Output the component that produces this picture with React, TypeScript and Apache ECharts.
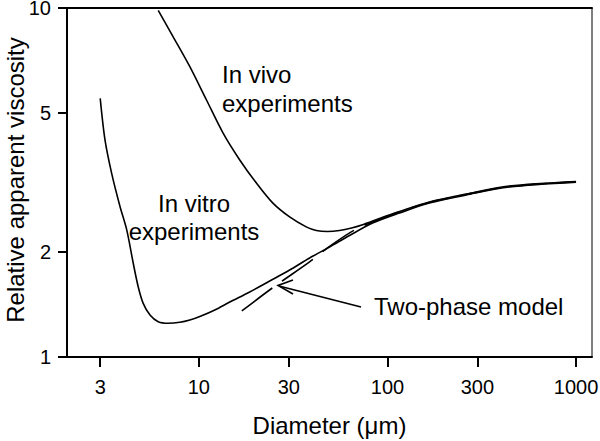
import React, { useEffect, useRef } from "react";
import * as echarts from "echarts";

const xTicks = [3, 10, 30, 100, 300, 1000];
const yTicks = [1, 2, 5, 10];

const inVitroX = [3, 3.18, 3.45, 3.82, 4.15, 4.49, 4.77, 5.07, 5.51, 6.09, 6.88, 7.93, 8.96, 10.12, 12.15, 14.59, 18.61, 23.76, 30.3, 38.66, 49.33, 62.93, 83.4, 115.8, 166.8, 261.8, 442, 1000];
const inVitroY = [5.51, 4.19, 3.36, 2.7, 2.31, 1.856, 1.59, 1.425, 1.319, 1.262, 1.249, 1.257, 1.276, 1.306, 1.364, 1.437, 1.536, 1.651, 1.775, 1.922, 2.067, 2.229, 2.42, 2.586, 2.762, 2.912, 3.07, 3.17];

const inVivoX = [6.09, 7.31, 8.96, 10.98, 13.45, 16.48, 20.2, 24.7, 30.3, 37.1, 41.97, 48.1, 55.7, 64.5, 74.6, 90.7, 115.8, 166.8, 261.8, 442, 1000];
const inVivoY = [9.85, 8.27, 6.79, 5.45, 4.38, 3.67, 3.15, 2.76, 2.52, 2.36, 2.304, 2.289, 2.304, 2.342, 2.397, 2.494, 2.612, 2.781, 2.931, 3.09, 3.184];

const twoPhaseX = [16.9, 24.94, 38.66, 49.33, 68.6, 115.8, 166.8, 261.8, 442, 1000];
const twoPhaseY = [1.355, 1.587, 1.872, 2.074, 2.327, 2.603, 2.772, 2.922, 3.079, 3.179];

const FONT = "'Liberation Sans', Arial, Helvetica, sans-serif";

function pairs(xs: number[], ys: number[]) {
  return xs.map((x, i) => [x, ys[i]]);
}

export default function App() {
  const ref = useRef<HTMLDivElement>(null);
  useEffect(() => {
    if (!ref.current) return;
    const chart = echarts.init(ref.current, undefined, { renderer: "svg" });
    const lineBase = { type: "line", showSymbol: false, symbol: "none", smooth: 0.3, silent: true };
    const axisCommon = {
      type: "log",
      logBase: 10,
      splitLine: { show: false },
      minorTick: { show: false },
    };
    const textBase = { fontSize: 24, fontFamily: FONT, fill: "#000" };
    chart.setOption({
      animation: false,
      backgroundColor: "#ffffff",
      textStyle: { fontFamily: FONT, color: "#000" },
      grid: {
        left: 67,
        right: 8,
        top: 8,
        bottom: 84,
        show: true,
        borderColor: "#000",
        borderWidth: 1,
        containLabel: false,
        outerBoundsMode: "none",
      },
      xAxis: [
        {
          ...axisCommon,
          min: 2,
          max: 1215,
          position: "bottom",
          name: "Diameter (\u03bcm)",
          nameLocation: "middle",
          nameGap: 56,
          nameTextStyle: { fontSize: 24, color: "#000", fontFamily: FONT },
          axisLine: { show: true, lineStyle: { color: "#000", width: 2 } },
          axisTick: { show: true, length: 10, lineStyle: { color: "#000", width: 2 }, customValues: xTicks },
          axisLabel: {
            margin: 20,
            fontSize: 20,
            color: "#000",
            fontFamily: FONT,
            customValues: xTicks,
            formatter: (v: number) => String(Math.round(v)),
          },
        },
        {
          ...axisCommon,
          min: 2,
          max: 1215,
          position: "top",
          axisLine: { show: true, lineStyle: { color: "#000", width: 2 } },
          axisTick: { show: false },
          axisLabel: { show: false },
        },
      ],
      yAxis: {
        ...axisCommon,
        min: 1,
        max: 10,
        axisLine: { show: true, lineStyle: { color: "#000", width: 2 } },
        axisTick: { show: true, length: 9, lineStyle: { color: "#000", width: 2 }, customValues: yTicks },
        axisLabel: {
          margin: 16,
          fontSize: 20,
          color: "#000",
          fontFamily: FONT,
          customValues: yTicks,
          formatter: (v: number) => String(Math.round(v)),
        },
      },
      series: [
        {
          ...lineBase,
          name: "In vitro experiments",
          data: pairs(inVitroX, inVitroY),
          lineStyle: { color: "#000", width: 1.6 },
        },
        {
          ...lineBase,
          name: "In vivo experiments",
          data: pairs(inVivoX, inVivoY),
          lineStyle: { color: "#000", width: 1.6 },
        },
        {
          ...lineBase,
          name: "Two-phase model",
          data: pairs(twoPhaseX, twoPhaseY),
          lineStyle: { color: "#000", width: 1.6, type: [38, 12] },
        },
      ],
      graphic: [
        { type: "text", x: 15, y: 180, rotation: Math.PI / 2, style: { ...textBase, text: "Relative apparent viscosity", align: "center", verticalAlign: "middle" }, silent: true },
        { type: "text", x: 222, y: 74.5, style: { ...textBase, text: "In vivo", align: "left", verticalAlign: "middle" }, silent: true },
        { type: "text", x: 222, y: 103, style: { ...textBase, text: "experiments", align: "left", verticalAlign: "middle" }, silent: true },
        { type: "text", x: 194, y: 203.3, style: { ...textBase, text: "In vitro", align: "center", verticalAlign: "middle" }, silent: true },
        { type: "text", x: 194, y: 231.8, style: { ...textBase, text: "experiments", align: "center", verticalAlign: "middle" }, silent: true },
        { type: "text", x: 374, y: 306.5, style: { ...textBase, text: "Two-phase model", align: "left", verticalAlign: "middle" }, silent: true },
        { type: "line", shape: { x1: 361, y1: 307, x2: 279, y2: 286 }, style: { stroke: "#000", lineWidth: 1.6 }, silent: true },
        { type: "polyline", shape: { points: [[293, 280], [278, 285.5], [293, 294]] }, style: { stroke: "#000", lineWidth: 1.6, fill: null }, silent: true },
      ],
    });
    return () => chart.dispose();
  }, []);
  return <div ref={ref} style={{ position: "fixed", left: 0, top: 0, width: 600, height: 441, background: "#fff" }} />;
}
